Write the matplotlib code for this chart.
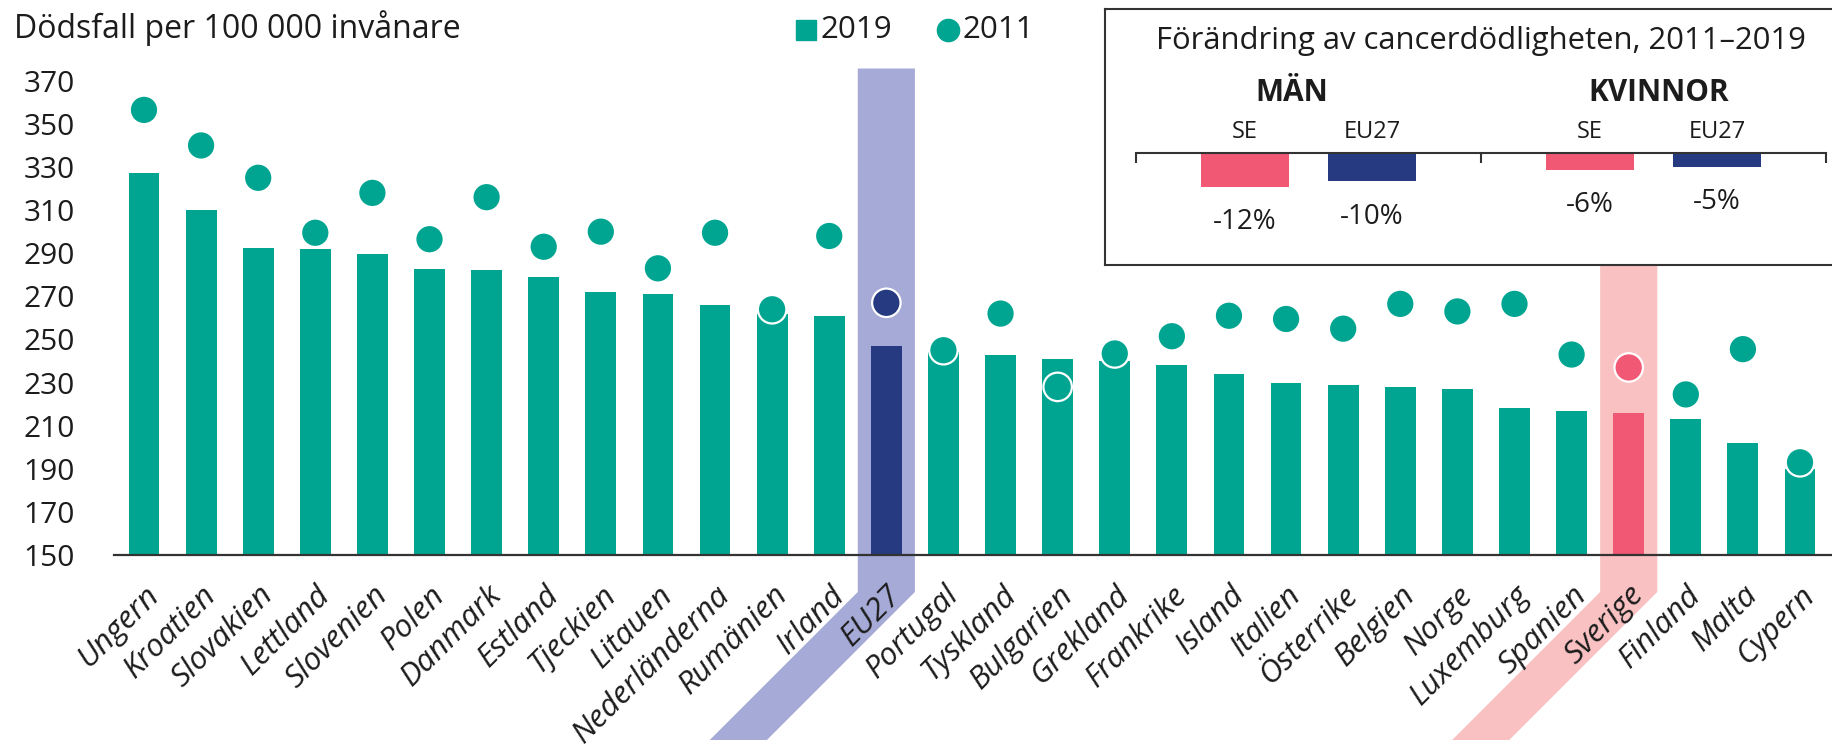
import matplotlib
matplotlib.use('Agg')
import matplotlib.pyplot as plt
import numpy as np
from matplotlib.patches import Polygon
from matplotlib.lines import Line2D
from matplotlib.transforms import IdentityTransform, ScaledTranslation

plt.rcParams['font.family'] = ['Open Sans', 'DejaVu Sans']

# data
countries = ["Ungern", "Kroatien", "Slovakien", "Lettland", "Slovenien", "Polen",
             "Danmark", "Estland", "Tjeckien", "Litauen", "Nederländerna", "Rumänien",
             "Irland", "EU27", "Portugal", "Tyskland", "Bulgarien", "Grekland",
             "Frankrike", "Island", "Italien", "Österrike", "Belgien", "Norge",
             "Luxemburg", "Spanien", "Sverige", "Finland", "Malta", "Cypern"]
rate_2019 = [327, 310, 292.5, 292, 289.5, 282.5, 282, 279, 272, 271, 266, 262,
             261, 247, 244, 243, 241, 240, 238, 234, 230, 229, 228, 227,
             218, 217, 216, 213, 202, 190]
rate_2011 = [356.5, 340, 325, 299.5, 318, 296.5, 316, 293, 300, 283, 299.5, 264,
             298, 267, 245, 262, 228, 243.5, 251.5, 261, 259.5, 255, 266.5, 263,
             266.5, 243, 237, 224.5, 245.5, 193]
yticks = list(range(150, 371, 20))

change_groups = ["MÄN", "KVINNOR"]
change_se = [-12, -6]
change_eu = [-10, -5]

TEAL = '#00a591'
NAVY = '#253a80'
PINK = '#f05873'
EU_BAND = '#a5aad6'
SE_BAND = '#f9c1c1'
INK = '#1c1c1c'

W, H = 1832, 747
fig = plt.figure(figsize=(W / 100, H / 100), dpi=100)

ax = fig.add_axes([114 / W, 1 - 555 / H, 1 - 114 / W, (555 - 68.5) / H])
ax.set_facecolor('none')

x = np.arange(len(countries))
i_eu = countries.index("EU27")
i_se = countries.index("Sverige")
bar_colors = [TEAL] * len(countries)
bar_colors[i_eu] = NAVY
bar_colors[i_se] = PINK

ax.bar(x, rate_2019, width=0.54, color=bar_colors, zorder=2)
ax.scatter(x, rate_2011, s=420, c=bar_colors, edgecolors='white',
           linewidths=1.6, zorder=3, clip_on=False)

ax.set_xlim(-0.525, 29.56)
ax.set_ylim(150, 375.7)

# highlight bands, slanted along the labels
fig.canvas.draw()
top = ax.transAxes.transform((0, 1))[1]
base = ax.transData.transform((0, 150))[1]
knee = base - 37
foot = knee - 148
for idx, col in [(i_eu, EU_BAND), (i_se, SE_BAND)]:
    x0 = ax.transData.transform((idx - 0.5, 150))[0]
    x1 = ax.transData.transform((idx + 0.5, 150))[0]
    pts = [(x0, top), (x1, top), (x1, knee), (x1 - 148, foot),
           (x0 - 148, foot), (x0, knee)]
    ax.add_patch(Polygon(pts, closed=True, facecolor=col, edgecolor='none',
                         transform=IdentityTransform(), clip_on=False, zorder=0.4))
ax.set_xlim(-0.525, 29.56)
ax.set_ylim(150, 375.7)

ax.set_yticks(yticks)
ax.set_yticklabels([str(t) for t in yticks], fontsize=21.5, color=INK)
ax.set_xticks(x)
ax.set_xticklabels(countries, rotation=45, ha='right', rotation_mode='anchor',
                   fontstyle='italic', fontsize=22.5, color=INK)
shift = ScaledTranslation(-0.09, 0, fig.dpi_scale_trans)
for lab in ax.get_xticklabels():
    lab.set_transform(lab.get_transform() + shift)
ax.tick_params(axis='y', length=0, pad=28)
ax.tick_params(axis='x', length=0, pad=18)
for s in ['left', 'top', 'right']:
    ax.spines[s].set_visible(False)
ax.spines['bottom'].set_linewidth(1.6)
ax.spines['bottom'].set_color('#333333')

# header and legend
fig.text(14 / W, 1 - 38 / H, "Dödsfall per 100 000 invånare", fontsize=23,
         color=INK, va='baseline')
fig.add_artist(Line2D([806 / W], [1 - 30 / H], marker='s', markersize=14.4,
                      color=TEAL, linestyle='none', transform=fig.transFigure))
fig.text(821 / W, 1 - 30 / H, "2019", fontsize=22.5, color=INK, va='center')
fig.add_artist(Line2D([948 / W], [1 - 30 / H], marker='o', markersize=16,
                      color=TEAL, linestyle='none', transform=fig.transFigure))
fig.text(963 / W, 1 - 30 / H, "2011", fontsize=22.5, color=INK, va='center')

# inset box
box = fig.add_axes([1105 / W, 1 - 265 / H, (W - 1105) / W + 0.01, (265 - 9.3) / H])
box.set_facecolor('white')
box.set_xticks([])
box.set_yticks([])
for s in box.spines.values():
    s.set_linewidth(1.5)
    s.set_color('#333333')

ax_in = fig.add_axes([1136 / W, 1 - (152.7 + 100) / H, 690 / W, 100 / H])
ax_in.set_facecolor('none')
ax_in.set_xlim(0, 1)
ax_in.set_ylim(-100 / 2.85, 0)
for s in ['left', 'bottom', 'right']:
    ax_in.spines[s].set_visible(False)
ax_in.spines['top'].set_linewidth(1.5)
ax_in.spines['top'].set_color('#333333')
ax_in.xaxis.set_ticks_position('top')
ax_in.set_xticks([0, 0.5, 1])
ax_in.tick_params(axis='x', direction='in', length=7, width=1.5, color='#333333',
                  labeltop=False)
ax_in.set_yticks([])

group_x = np.array([0.25, 0.75])
group_shift = [-12, 4]  # points, heading nudged as in the original
off = 0.092
ax_in.bar(group_x - off, change_se, width=0.128, color=PINK)
ax_in.bar(group_x + off, change_eu, width=0.128, color=NAVY)

for gx, g, sh, se, eu in zip(group_x, change_groups, group_shift, change_se, change_eu):
    ax_in.annotate(g, (gx, 0), xytext=(sh, 43), textcoords='offset points',
                   ha='center', va='center', fontsize=21.5, fontweight='bold',
                   color=INK, annotation_clip=False)
    for xx, lab, v in [(gx - off, "SE", se), (gx + off, "EU27", eu)]:
        ax_in.annotate(lab, (xx, 0), xytext=(0, 15), textcoords='offset points',
                       ha='center', va='center', fontsize=17, color=INK,
                       annotation_clip=False)
        ax_in.annotate(f"{v}%", (xx, v), xytext=(0, -25.5), textcoords='offset points',
                       ha='center', va='center', fontsize=20, color=INK,
                       annotation_clip=False)
ax_in.annotate("Förändring av cancerdödligheten, 2011–2019", (0.5, 0),
               xytext=(0, 80.4), textcoords='offset points', ha='center',
               va='center', fontsize=22.3, color=INK, annotation_clip=False)

fig.savefig('out.png', dpi=100)
